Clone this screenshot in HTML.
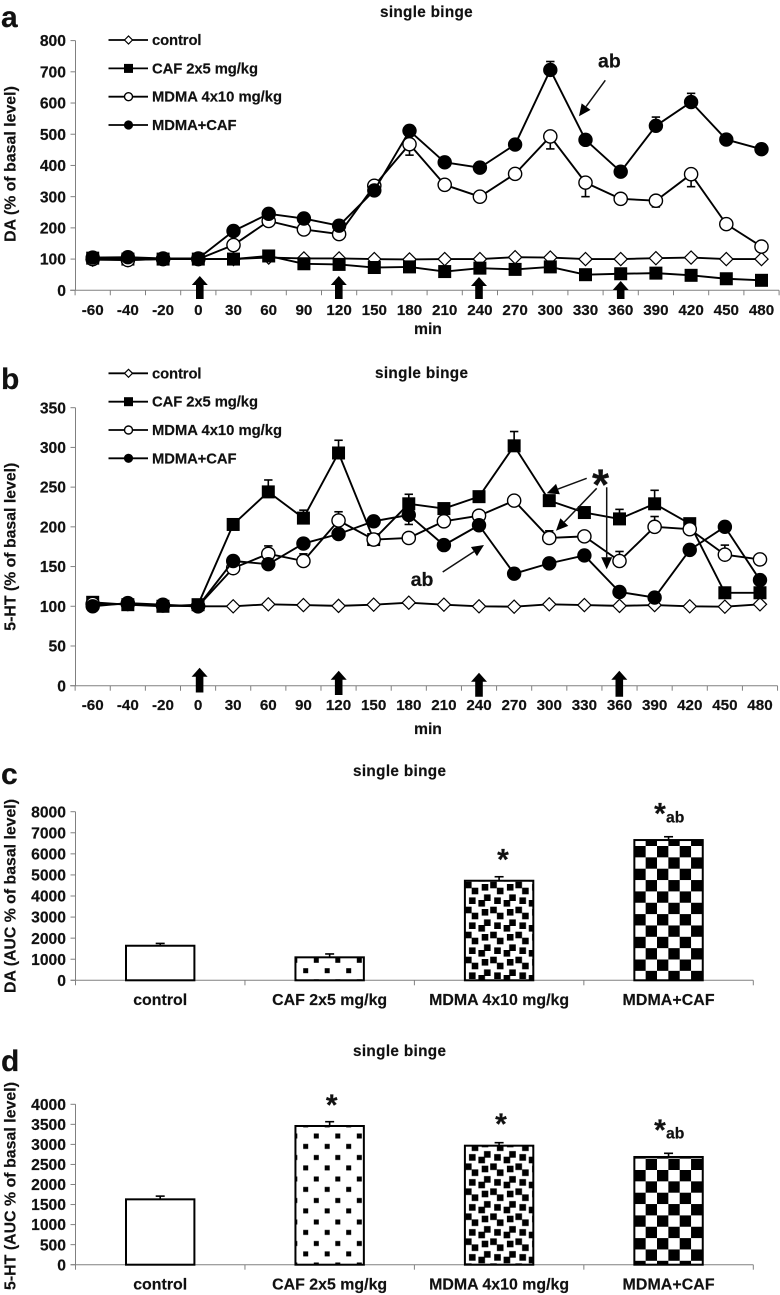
<!DOCTYPE html>
<html lang="en">
<head>
<meta charset="utf-8">
<title>Single binge: DA and 5-HT levels</title>
<style>
html,body{margin:0;padding:0;background:#fff;}
#figure{display:block;width:780px;height:1295px;filter:blur(0.3px);}
text{font-family:"Liberation Sans",Arial,sans-serif;font-weight:bold;fill:#111;stroke:#111;stroke-width:0.18px;}
</style>
</head>
<body>
<svg id="figure" xmlns="http://www.w3.org/2000/svg" width="780" height="1295" viewBox="0 0 780 1295">
  <defs>
    <pattern id="dots-c" patternUnits="userSpaceOnUse" x="300" y="955" width="21.5" height="21.5">
      <rect x="13.8" y="2.8" width="5" height="5" fill="#000"/><rect x="3.2" y="13.2" width="5" height="5" fill="#000"/>
    </pattern>
    <pattern id="dots-d" patternUnits="userSpaceOnUse" x="300" y="1130.7" width="21.5" height="21.5">
      <rect x="13.8" y="2.8" width="5" height="5" fill="#000"/><rect x="3.2" y="13.2" width="5" height="5" fill="#000"/>
    </pattern>
    <pattern id="dense-c" patternUnits="userSpaceOnUse" x="460" y="870" width="25.2" height="25">
      <rect x="5" y="11.7" width="6.6" height="6.6" fill="#000"/><rect x="21.7" y="14" width="6.6" height="6.6" fill="#000"/><rect x="-3.5" y="14" width="6.6" height="6.6" fill="#000"/>
      <rect x="11.7" y="17.7" width="6.6" height="6.6" fill="#000"/><rect x="24" y="-0.6" width="6.6" height="6.6" fill="#000"/><rect x="-1.2" y="-0.6" width="6.6" height="6.6" fill="#000"/>
      <rect x="24" y="24.4" width="6.6" height="6.6" fill="#000"/><rect x="-1.2" y="24.4" width="6.6" height="6.6" fill="#000"/>
      <rect x="9" y="2.4" width="6.6" height="6.6" fill="#000"/><rect x="18.4" y="5" width="6.6" height="6.6" fill="#000"/>
    </pattern>
    <pattern id="dense-d" patternUnits="userSpaceOnUse" x="460" y="1151.7" width="25.2" height="25">
      <rect x="5" y="11.7" width="6.6" height="6.6" fill="#000"/><rect x="21.7" y="14" width="6.6" height="6.6" fill="#000"/><rect x="-3.5" y="14" width="6.6" height="6.6" fill="#000"/>
      <rect x="11.7" y="17.7" width="6.6" height="6.6" fill="#000"/><rect x="24" y="-0.6" width="6.6" height="6.6" fill="#000"/><rect x="-1.2" y="-0.6" width="6.6" height="6.6" fill="#000"/>
      <rect x="24" y="24.4" width="6.6" height="6.6" fill="#000"/><rect x="-1.2" y="24.4" width="6.6" height="6.6" fill="#000"/>
      <rect x="9" y="2.4" width="6.6" height="6.6" fill="#000"/><rect x="18.4" y="5" width="6.6" height="6.6" fill="#000"/>
    </pattern>
    <pattern id="check-c" patternUnits="userSpaceOnUse" x="634.3" y="846" width="22.7" height="22.7">
      <rect x="0" y="0" width="11.35" height="11.35" fill="#000"/><rect x="11.35" y="11.35" width="11.35" height="11.35" fill="#000"/>
    </pattern>
    <pattern id="check-d" patternUnits="userSpaceOnUse" x="634.3" y="1170" width="22.7" height="22.7">
      <rect x="0" y="0" width="11.35" height="11.35" fill="#000"/><rect x="11.35" y="11.35" width="11.35" height="11.35" fill="#000"/>
    </pattern>
  </defs>

  <text x="1" y="27" font-size="30">a</text>
  <text x="1" y="389" font-size="30">b</text>
  <text x="1" y="784" font-size="30">c</text>
  <text x="1" y="1071" font-size="30">d</text>

  <text x="380" y="17" font-size="15.3" textLength="92.7">single binge</text>
  <text x="375" y="378" font-size="15.3" textLength="93">single binge</text>
  <text x="353" y="776" font-size="15.3" textLength="93">single binge</text>
  <text x="353" y="1056" font-size="15.3" textLength="93">single binge</text>

  <text transform="translate(15.7,164) rotate(-90)" text-anchor="middle" font-size="15.8" textLength="155.7">DA (% of basal level)</text>
  <text transform="translate(15.7,546.7) rotate(-90)" text-anchor="middle" font-size="15.8" textLength="168">5-HT (% of basal level)</text>
  <text transform="translate(15.7,896) rotate(-90)" text-anchor="middle" font-size="15.8" textLength="194">DA (AUC % of basal level)</text>
  <text transform="translate(15.7,1186) rotate(-90)" text-anchor="middle" font-size="15.8" textLength="208">5-HT (AUC % of basal level)</text>

  <text x="414" y="334" font-size="15.7">min</text>
  <text x="414" y="734" font-size="15.7">min</text>

  <g id="panel-a"></g>
  <g id="panel-b"></g>
  <g id="panel-c"></g>
  <g id="panel-d"></g>

  <text x="598" y="67.7" font-size="19.5">ab</text>
  <text x="410.7" y="586" font-size="19.5">ab</text>
  <text x="600.5" y="499.6" font-size="44" text-anchor="middle">*</text>
  <text x="503" y="869.5" font-size="30" text-anchor="middle">*</text>
  <text x="660" y="823.5" font-size="30" text-anchor="middle">*</text>
  <text x="666" y="822.7" font-size="15.7">ab</text>
  <text x="331.7" y="1115" font-size="30" text-anchor="middle">*</text>
  <text x="501" y="1134" font-size="30" text-anchor="middle">*</text>
  <text x="660" y="1140" font-size="30" text-anchor="middle">*</text>
  <text x="666" y="1138.7" font-size="15.7">ab</text>
</svg>

<script>
var timeLabels = ['-60','-40','-20','0','30','60','90','120','150','180','210','240','270','300','330','360','390','420','450','480'];
var seriesNames = ['control','CAF 2x5 mg/kg','MDMA 4x10 mg/kg','MDMA+CAF'];
var barLabels = ['control','CAF 2x5 mg/kg','MDMA 4x10 mg/kg','MDMA+CAF'];

var daTicks = [0,100,200,300,400,500,600,700,800];
var daControl = [98,97,100,100,100,105,102,102,100,99,100,100,106,105,100,100,103,105,100,100];
var daCaf = [103,100,100,100,100,110,85,83,73,75,60,71,67,75,50,53,55,48,37,32];
var daMdma = [100,97,100,100,145,222,195,180,335,468,338,300,373,493,345,293,287,372,212,140];
var daCombo = [105,106,102,102,190,245,230,207,320,511,410,393,467,706,482,380,527,603,483,452];
var daMdmaErr = [0,0,0,0,0,0,0,0,0,-35,0,0,0,-40,-45,0,-20,-40,0,0];
var daComboErr = [0,0,0,0,0,0,0,0,0,0,15,0,0,27,0,0,28,28,0,0];

var htTicks = [0,50,100,150,200,250,300,350];
var htControl = [102,103,101,100,100,102.5,101.5,100.5,102,104.5,102,100,99.5,102.5,101.5,100.5,101.5,100,99.5,102.5];
var htCaf = [105,102,100,102,203,244,211,293,184,229,223,238,302,233,218,210,229,204,117,117];
var htMdma = [103,103,101,100,148,166,157,208,184,186,207,214,233,186,188,157,200,197,165,159];
var htCombo = [100,104,102,100,157,153,179,191,207,215,177,202,141,154,164,118,111,171,200,133];
var htCafErr = [0,0,0,0,0,15,10,16,0,12,0,0,18,0,0,12,17,0,0,0];
var htMdmaErr = [0,0,0,0,0,10,9,11,0,0,0,0,0,9,0,12,13,0,12,0];
var htComboErr = [0,0,0,0,0,0,0,0,0,-12,0,0,0,0,0,0,0,0,0,0];

var aucDaTicks = [0,1000,2000,3000,4000,5000,6000,7000,8000];
var aucDaValues = [1640,1090,4724,6655];
var aucDaErrors = [110,160,190,157];
var aucHtTicks = [0,500,1000,1500,2000,2500,3000,3500,4000];
var aucHtValues = [1630,3459,2968,2686];
var aucHtErrors = [80,107,75,92];

var NS = 'http://www.w3.org/2000/svg';
function mk(parent, tag, attrs, txt) {
  var el = document.createElementNS(NS, tag);
  for (var k in attrs) { el.setAttribute(k, attrs[k]); }
  if (txt !== undefined) { el.textContent = txt; }
  parent.appendChild(el);
  return el;
}
function marker(parent, type, cx, cy, s) {
  var el;
  if (type === 0) {
    el = mk(parent, 'polygon', {points:(cx-s)+','+cy+' '+cx+','+(cy-s)+' '+(cx+s)+','+cy+' '+cx+','+(cy+s), fill:'#fff', stroke:'#000', 'stroke-width':1.2});
  } else if (type === 1) {
    el = mk(parent, 'rect', {x:cx-s, y:cy-s, width:2*s, height:2*s, fill:'#000'});
  } else if (type === 2) {
    el = mk(parent, 'circle', {cx:cx, cy:cy, r:s, fill:'#fff', stroke:'#000', 'stroke-width':1.4});
  } else {
    el = mk(parent, 'circle', {cx:cx, cy:cy, r:s+0.6, fill:'#000'});
  }
  return el;
}
function blockArrow(parent, name, x, top, bottom) {
  var el = mk(parent, 'polygon', {points:[x,top, x+8,top+9, x+3.8,top+9, x+3.8,bottom, x-3.8,bottom, x-3.8,top+9, x-8,top+9].join(','), fill:'#000'});
  
  
}
function thinArrow(parent, name, x1, y1, x2, y2) {
  var g = mk(parent, 'g', {});
  
  
  var a = Math.atan2(y2 - y1, x2 - x1), L = 12, W = 5.5;
  var bx = x2 - L*Math.cos(a), by = y2 - L*Math.sin(a);
  mk(g, 'line', {x1:x1, y1:y1, x2:bx, y2:by, stroke:'#111', 'stroke-width':1.5});
  mk(g, 'polygon', {points:[x2,y2, bx - W*Math.sin(a),by + W*Math.cos(a), bx + W*Math.sin(a),by - W*Math.cos(a)].join(','), fill:'#000'});
}
function yAxis(g, prefix, ticks, maxV, y0, yTop) {
  var scale = function(v){ return y0 - (v/maxV)*(y0-yTop); };
  var ax = mk(g, 'line', {x1:75.5, x2:75.5, y1:yTop, y2:y0, stroke:'#808080', 'stroke-width':1});
  
  
  ticks.forEach(function(t){
    var tk = mk(g, 'line', {x1:70.5, x2:75.5, y1:scale(t), y2:scale(t), stroke:'#808080', 'stroke-width':1});
    
    
    var lb = mk(g, 'text', {x:66, y:scale(t)+5.6, 'text-anchor':'end', 'font-size':15.7}, String(t));
    
    
  });
  return scale;
}
function linePanel(id, prefix, o) {
  var g = document.getElementById(id);
  var y = yAxis(g, prefix, o.ticks, o.maxV, o.y0, o.yTop);
  var x = function(i){ return o.x0 + i*o.dx; };
  var bx = x(-0.5), ex = x(timeLabels.length - 0.5);
  var axis = mk(g, 'line', {x1:bx-5, x2:ex, y1:o.y0, y2:o.y0, stroke:'#808080', 'stroke-width':1});
  
  
  for (var i = 0; i <= timeLabels.length; i++) {
    var t = mk(g, 'line', {x1:x(i-0.5), x2:x(i-0.5), y1:o.y0, y2:o.y0+5, stroke:'#808080', 'stroke-width':1});
    
    
  }
  timeLabels.forEach(function(lbl, i){
    var tx = mk(g, 'text', {x:x(i), y:o.labelY, 'text-anchor':'middle', 'font-size':15.2}, lbl);
    
    
  });
  o.arrows.forEach(function(a, n){
    blockArrow(g, prefix + '-dose-arrow-' + (n+1), a[0], a[1], a[2]);
  });
  o.series.forEach(function(vals, s){
    var sg = mk(g, 'g', {});
    
    
    var errs = o.errors[s];
    if (errs) {
      errs.forEach(function(e, i){
        if (!e) { return; }
        var eg = mk(sg, 'g', {});
        
        
        mk(eg, 'line', {x1:x(i), x2:x(i), y1:y(vals[i]), y2:y(vals[i]+e), stroke:'#000', 'stroke-width':1.6});
        mk(eg, 'line', {x1:x(i)-4.2, x2:x(i)+4.2, y1:y(vals[i]+e), y2:y(vals[i]+e), stroke:'#000', 'stroke-width':1.6});
      });
    }
    var pts = vals.map(function(v, i){ return x(i) + ',' + y(v); }).join(' ');
    var ln = mk(sg, 'polyline', {points:pts, fill:'none', stroke:'#000', 'stroke-width':1.9, 'stroke-linejoin':'round'});
    
    
    vals.forEach(function(v, i){
      var m = marker(sg, s, x(i), y(v), s === 1 ? 6.5 : 6.6);
      
      
    });
  });
  o.legendY.forEach(function(ly, s){
    var lg = mk(g, 'g', {});
    
    
    mk(lg, 'line', {x1:108.5, x2:148, y1:ly, y2:ly, stroke:'#000', 'stroke-width':1.8});
    marker(lg, s, 128.5, ly, s === 1 ? 4.5 : 4);
    mk(lg, 'text', {x:152, y:ly+5, 'font-size':14.8, textLength:[49.5,106,130,84.5][s]}, seriesNames[s]);
  });
}
function barPanel(id, prefix, o) {
  var g = document.getElementById(id);
  var y = yAxis(g, prefix, o.ticks, o.maxV, o.y0, o.yTop);
  var axis = mk(g, 'line', {x1:70.5, x2:753.3, y1:o.y0, y2:o.y0, stroke:'#808080', 'stroke-width':1});
  
  
  for (var i = 0; i <= barLabels.length; i++) {
    var cx = 75.5 + i*169.45;
    var t = mk(g, 'line', {x1:cx, x2:cx, y1:o.y0, y2:o.y0+5, stroke:'#808080', 'stroke-width':1});
    
    
  }
  barLabels.forEach(function(lbl, i){
    var c = 160.2 + i*169.45;
    var err = mk(g, 'g', {});
    
    
    mk(err, 'line', {x1:c, x2:c, y1:y(o.values[i]), y2:y(o.values[i]+o.errors[i]), stroke:'#000', 'stroke-width':1.6});
    mk(err, 'line', {x1:c-4.5, x2:c+4.5, y1:y(o.values[i]+o.errors[i]), y2:y(o.values[i]+o.errors[i]), stroke:'#000', 'stroke-width':1.6});
    var bar = mk(g, 'rect', {x:c-34.2, y:y(o.values[i]), width:68.4, height:o.y0-y(o.values[i]), fill:o.fills[i], stroke:'#000', 'stroke-width':2});
    
    
    var tx = mk(g, 'text', {x:c, y:o.labelY, 'text-anchor':'middle', 'font-size':15.9, textLength:[54,115,140,92][i]}, lbl);
    
    
  });
}

linePanel('panel-a', 'panel-a', {
  ticks: daTicks, maxV: 800, y0: 290.3, yTop: 40.6, x0: 92.7, dx: 35.2, labelY: 315,
  series: [daControl, daCaf, daMdma, daCombo],
  errors: [null, null, daMdmaErr, daComboErr],
  legendY: [40, 68.4, 96.7, 125],
  arrows: [[199.8,276,299],[338.8,276,299],[479,277,299],[620.7,281,299]]
});
linePanel('panel-b', 'panel-b', {
  ticks: htTicks, maxV: 350, y0: 685.7, yTop: 407.7, x0: 92.7, dx: 35.12, labelY: 710,
  series: [htControl, htCaf, htMdma, htCombo],
  errors: [null, htCafErr, htMdmaErr, htComboErr],
  legendY: [373.3, 401.7, 430, 458.3],
  arrows: [[199.6,667.7,692.5],[338.7,670.7,695],[479,672.7,696.7],[619.3,670.7,696.7]]
});
barPanel('panel-c', 'panel-c', {
  ticks: aucDaTicks, maxV: 8000, y0: 980.3, yTop: 811.7, labelY: 1005,
  values: aucDaValues, errors: aucDaErrors,
  fills: ['#fff','url(#dots-c)','url(#dense-c)','url(#check-c)']
});
barPanel('panel-d', 'panel-d', {
  ticks: aucHtTicks, maxV: 4000, y0: 1264.7, yTop: 1104.3, labelY: 1289.3,
  values: aucHtValues, errors: aucHtErrors,
  fills: ['#fff','url(#dots-d)','url(#dense-d)','url(#check-d)']
});

var root = document.getElementById('figure');
thinArrow(root, 'ab-arrow-a', 605.3, 80.3, 579, 116.3);
thinArrow(root, 'ab-arrow-b', 442.7, 572, 484, 545);
thinArrow(root, 'star-arrow-caf', 586.7, 478.3, 546.7, 493.3);
thinArrow(root, 'star-arrow-mdma', 596.7, 488.3, 556, 530.7);
thinArrow(root, 'star-arrow-vertical', 606.7, 487.3, 606.7, 569.3);
</script>
</body>
</html>
